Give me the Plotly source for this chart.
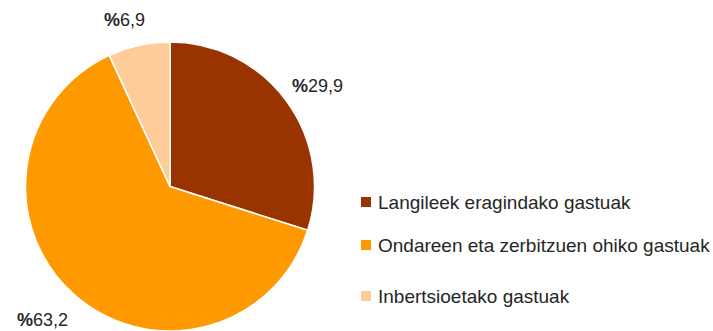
import math
import plotly.graph_objects as go

categories = ["Langileek eragindako gastuak",
              "Ondareen eta zerbitzuen ohiko gastuak",
              "Inbertsioetako gastuak"]
values = [29.9, 63.2, 6.9]
value_labels = ["29,9", "63,2", "6,9"]
colors = ["#993300", "#FF9900", "#FFCC99"]

W, H = 713, 331
CX, CY, R = 170, 186.5, 144.5
FONT = "Liberation Sans, Arial"
TXT = "#262626"

fig = go.Figure(go.Pie(
    labels=categories, values=values, sort=False, direction="clockwise",
    rotation=0, marker=dict(colors=colors, line=dict(color="white", width=1.5)),
    textinfo="none", hoverinfo="label+percent", showlegend=False,
    domain=dict(x=[(CX - R) / W, (CX + R) / W], y=[1 - (CY + R) / H, 1 - (CY - R) / H]),
))

annotations = []
shapes = []
# percentage labels anchored at the rim point of each slice's mid angle
label_offsets = [(31, -15), (-32, 25), (-14, -25)]
total = sum(values)
start = 0.0
for v, lab, (ox, oy) in zip(values, value_labels, label_offsets):
    mid = (start + v / 2) / total * 2 * math.pi
    start += v
    px = CX + R * math.sin(mid)
    py = CY - R * math.cos(mid)
    annotations.append(dict(
        x=px / W, y=1 - py / H, xref="paper", yref="paper", showarrow=False,
        xshift=ox, yshift=-oy,
        text="<b>%</b>" + lab, font=dict(family=FONT, size=18, color=TXT),
        xanchor="center", yanchor="middle"))

# legend
legend_y = [202, 245, 296]
for name, col, ly in zip(categories, colors, legend_y):
    shapes.append(dict(type="rect", xref="paper", yref="paper",
                       x0=361 / W, x1=371 / W, y0=1 - (ly + 5) / H, y1=1 - (ly - 5) / H,
                       fillcolor=col, line=dict(width=0)))
    annotations.append(dict(
        x=376 / W, y=1 - ly / H, xref="paper", yref="paper", showarrow=False,
        text=name, font=dict(family=FONT, size=19, color=TXT),
        xanchor="left", yanchor="middle"))

fig.update_layout(width=W, height=H, margin=dict(l=0, r=0, t=0, b=0),
                  paper_bgcolor="white", plot_bgcolor="white",
                  annotations=annotations, shapes=shapes)
fig.write_html("out.html")
